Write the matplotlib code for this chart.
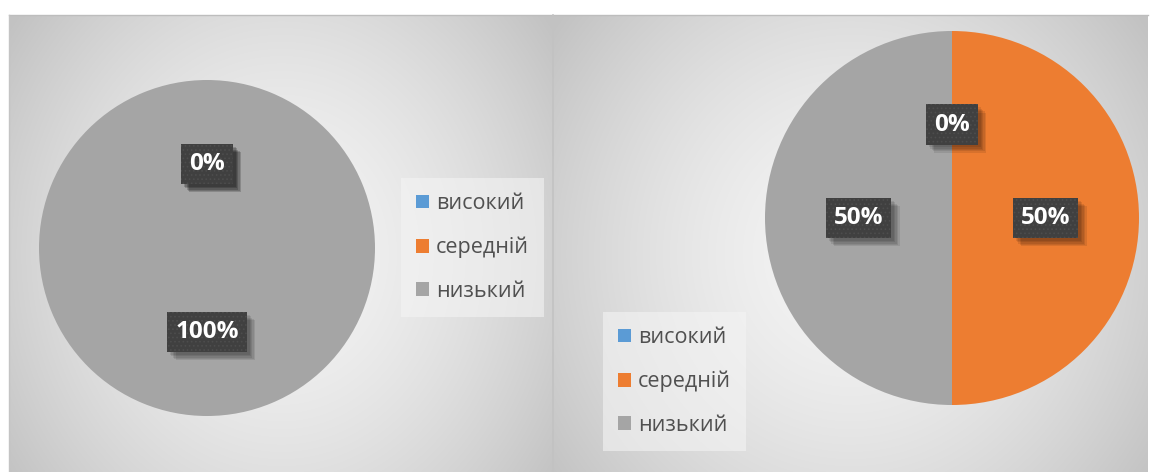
import numpy as np
import matplotlib
matplotlib.use('Agg')
import matplotlib.pyplot as plt
import matplotlib.patheffects as pe
from matplotlib.patches import Patch

plt.rcParams['font.family'] = ['Open Sans', 'DejaVu Sans']
plt.rcParams['hatch.linewidth'] = 0.7

levels = ['високий', 'середній', 'низький']
colors = ['#5B9BD5', '#ED7D31', '#A5A5A5']
left_values = [0, 0, 1]
right_values = [0, 1, 1]

W, H = 1150, 472
fig = plt.figure(figsize=(W / 100, H / 100), dpi=100)

# фон: два блоки з радіальним градієнтом
bg = fig.add_axes([0, 0, 1, 1])
img = np.ones((H, W, 3))
yy, xx = np.mgrid[0:H, 0:W]
for x0, x1, y0, y1 in [(9, 553, 15, H), (553, 1148, 15, H)]:
    w, h = x1 - x0, y1 - y0
    cx, cy = (x0 + x1) / 2, (y0 + y1) / 2 + 10
    d = np.sqrt(((xx - cx) / (w * 0.62)) ** 2 + ((yy - cy) / (h * 0.85)) ** 2)
    lum = (244 - 50 * np.clip(d, 0, 1) ** 1.6) / 255
    m = (xx >= x0) & (xx < x1) & (yy >= y0) & (yy < y1)
    for c in range(3):
        img[..., c][m] = lum[m]
bg.imshow(img, extent=(0, W, H, 0), aspect='auto', interpolation='bilinear')
bg.plot([9, 1148], [15, 15], color='#bdbdbd', lw=1)
bg.plot([9, 9], [15, H], color='#c4c4c4', lw=1)
bg.plot([553, 553], [15, H], color='#c2c2c2', lw=1.2)
bg.set_xlim(0, W)
bg.set_ylim(H, 0)
bg.axis('off')

# м'яка тінь під підписами
shadow = [pe.withSimplePatchShadow(offset=(o, -o), shadow_rgbFace='black', alpha=0.09)
          for o in (2, 3, 4, 5, 6)]


def draw_pie(rect, values):
    ax = fig.add_axes(rect)
    wedges, _, pcts = ax.pie(values, colors=colors, startangle=90, counterclock=False,
                             autopct='%1.0f%%', pctdistance=0.5,
                             wedgeprops=dict(linewidth=0))
    for t in pcts:
        style = dict(color='white', fontsize=17.5, fontweight='bold',
                     ha='center', va='center')
        t.set(**style)
        t.set_bbox(dict(boxstyle='square,pad=0.33', facecolor='#404040', linewidth=0))
        t.get_bbox_patch().set_path_effects(shadow)
        # візерунок з крапок поверх фону підпису
        top = ax.text(*t.get_position(), t.get_text(), **style)
        top.set_bbox(dict(boxstyle='square,pad=0.33', facecolor='#404040',
                          edgecolor='#4d4d4d', linewidth=0, hatch='....'))
    ax.set_xlim(-1, 1)
    ax.set_ylim(-1, 1)
    ax.set_aspect('equal')
    return ax


draw_pie([39 / W, (H - 416) / H, 336 / W, 336 / H], left_values)
draw_pie([765 / W, (H - 405) / H, 374 / W, 374 / H], right_values)

handles = [Patch(facecolor=c, edgecolor='none') for c in colors]
legend_kw = dict(fontsize=15.5, frameon=True, fancybox=False, framealpha=0.6,
                 facecolor='#f4f4f4', edgecolor='none', labelspacing=1.05,
                 handlelength=0.62, handleheight=0.62, handletextpad=0.3,
                 borderpad=0.7, borderaxespad=0, labelcolor='#505050')
fig.legend(handles, levels, loc='upper left',
           bbox_to_anchor=(401 / W, 1 - 178 / H), **legend_kw)
fig.legend(handles, levels, loc='upper left',
           bbox_to_anchor=(603 / W, 1 - 312 / H), **legend_kw)

fig.savefig('out.png', dpi=100)
